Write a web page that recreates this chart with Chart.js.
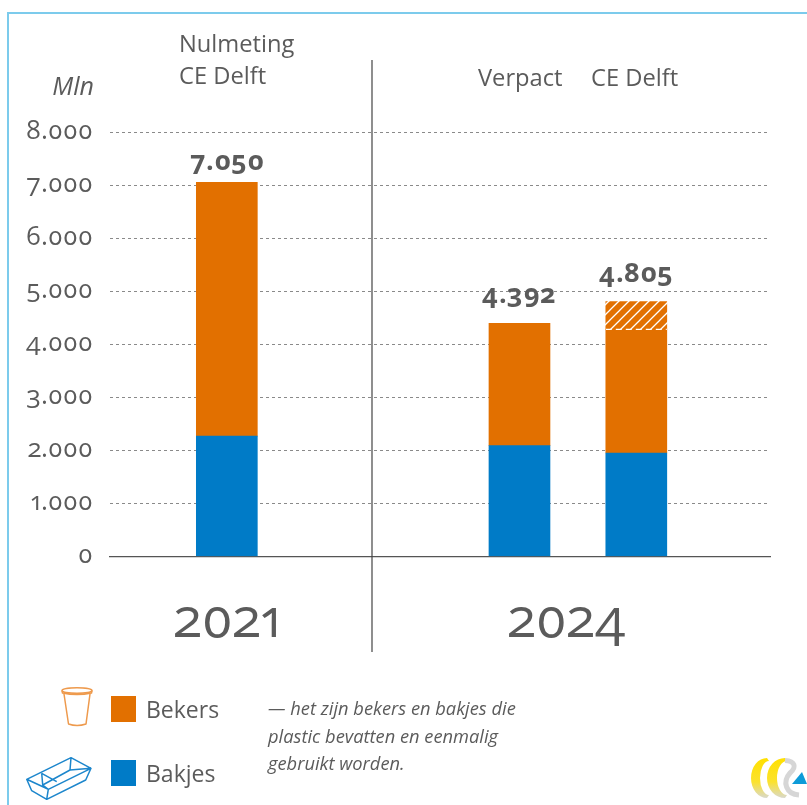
<!DOCTYPE html>
<html><head><meta charset="utf-8">
<style>
@font-face{font-family:"OldNum";src:local("Open Sans");font-weight:400;font-feature-settings:"onum" 1;font-variant-numeric:oldstyle-nums}
@font-face{font-family:"OldNum";src:local("Open Sans Bold"),local("Open Sans");font-weight:700;font-feature-settings:"onum" 1;font-variant-numeric:oldstyle-nums}
html,body{margin:0;padding:0;background:#fff}
canvas{display:block}
</style>
<script src="https://cdn.jsdelivr.net/npm/chart.js@4/dist/chart.umd.min.js"></script>
</head><body>
<canvas id="c" width="807" height="805"></canvas>
<script>
const categories = ['Nulmeting CE Delft', 'Verpact', 'CE Delft'];
const slots = [1, 3.48, 4.47];
const bakjes = [2270, 2090, 1950];
const bekers = [4780, 2302, 2330];
const bekersHatched = [null, null, 525];
const totals = ['7.050', '4.392', '4.805'];
const tickLabels = ['0', '1.000', '2.000', '3.000', '4.000', '5.000', '6.000', '7.000', '8.000'];
const years = ['2021', '2024'];
const noteLines = ['— het zijn bekers en bakjes die', 'plastic bevatten en eenmalig', 'gebruikt worden.'];
const ORANGE = '#E27000', BLUE = '#007BC7', TEXT = '#5b5b5b';
const FONT = '"Open Sans", sans-serif';
const NUMFONT = '"OldNum", "Open Sans", sans-serif';

function hatch() {
  const p = document.createElement('canvas'); p.width = 10; p.height = 10;
  const g = p.getContext('2d');
  g.fillStyle = ORANGE; g.fillRect(0, 0, 10, 10);
  g.strokeStyle = '#fff'; g.lineWidth = 1.3;
  g.beginPath();
  g.moveTo(-2, 12); g.lineTo(12, -2);
  g.moveTo(-7, 7); g.lineTo(7, -7);
  g.moveTo(3, 17); g.lineTo(17, 3);
  g.stroke();
  return g.createPattern(p, 'repeat');
}
const toPts = a => a.map((y, i) => ({x: slots[i], y}));

const decor = {
  id: 'decor',
  beforeDraw(ch) {
    const c = ch.ctx; c.save();
    c.strokeStyle = '#7CCBEC'; c.lineWidth = 2;
    c.beginPath(); c.moveTo(8, 805); c.lineTo(8, 13); c.lineTo(807, 13); c.stroke();
    c.restore();
  },
  afterDraw(ch) {
    const c = ch.ctx; c.save();
    c.textBaseline = 'middle'; c.fillStyle = TEXT;

    c.strokeStyle = '#444'; c.lineWidth = 1.2;
    c.beginPath(); c.moveTo(372, 60); c.lineTo(372, 652); c.stroke();

    c.textAlign = 'left'; c.font = '400 23.7px ' + FONT;
    c.fillText('Nulmeting', 179, 45);
    c.fillText(categories[0].replace('Nulmeting ', ''), 179, 77);
    c.fillText(categories[1], 478, 79);
    c.fillText(categories[2], 591, 79);
    c.textAlign = 'right'; c.font = 'italic 400 25px ' + FONT;
    c.fillText('Mln', 94, 88);

    const barsTop = ch.getDatasetMeta(1).data;
    const hatchTop = ch.getDatasetMeta(2).data;
    const lift = [20, 28, 27];
    c.textAlign = 'center'; c.font = '700 27px ' + NUMFONT; c.letterSpacing = '0.5px';
    totals.forEach((t, i) => {
      const el = i === 2 ? hatchTop[i] : barsTop[i];
      c.fillText(t, el.x, el.y - lift[i]);
    });
    c.letterSpacing = '0px';

    const h = hatchTop[2];
    c.strokeStyle = '#fff'; c.lineWidth = 1.4; c.setLineDash([6, 4]);
    c.beginPath(); c.moveTo(h.x - h.width / 2, h.base); c.lineTo(h.x + h.width / 2, h.base); c.stroke();
    c.setLineDash([]);

    c.font = '400 54px ' + NUMFONT; c.textAlign = 'center'; c.textBaseline = 'alphabetic';
    c.fillText(years[0], 227, 637);
    c.fillText(years[1], 567, 637);
    c.textBaseline = 'middle';

    c.fillStyle = ORANGE; c.fillRect(111, 696, 25, 26);
    c.fillStyle = BLUE; c.fillRect(111, 760, 25, 26);
    c.fillStyle = TEXT; c.textAlign = 'left'; c.font = '400 23px ' + FONT;
    c.fillText(ch.data.datasets[1].label, 146, 711);
    c.fillText(ch.data.datasets[0].label, 146, 775);

    c.font = 'italic 400 18.3px ' + FONT;
    noteLines.forEach((t, i) => c.fillText(t, 268, 710 + i * 27.5));

    // cup icon
    c.strokeStyle = '#EE9A4D'; c.lineWidth = 1.5; c.lineJoin = 'round';
    c.beginPath(); c.moveTo(64, 694); c.lineTo(68.5, 724); c.quadraticCurveTo(77, 727, 86, 724); c.lineTo(90, 694); c.stroke();
    c.beginPath(); c.ellipse(77, 690.5, 15, 2.8, 0, 0, 2 * Math.PI); c.stroke();
    c.beginPath(); c.moveTo(62, 690.5); c.lineTo(62.5, 693); c.quadraticCurveTo(77, 696, 91.5, 693); c.lineTo(92, 690.5); c.stroke();

    // tray icon
    c.strokeStyle = '#1C86CC'; c.lineWidth = 1.5;
    c.beginPath();
    c.moveTo(26.7, 779.3); c.lineTo(71, 757.7); c.lineTo(91, 768.3); c.lineTo(48.3, 789.3); c.closePath();
    c.moveTo(26.7, 779.3); c.lineTo(31.7, 790.7); c.lineTo(46.7, 799.3); c.lineTo(85.7, 780); c.lineTo(91, 768.3);
    c.moveTo(48.3, 789.3); c.lineTo(46.7, 799.3);
    c.moveTo(41.7, 773.3); c.lineTo(42.7, 785); c.lineTo(48.3, 789.3);
    c.moveTo(41.7, 773.3); c.lineTo(56.7, 781.7);
    c.moveTo(42.7, 785); c.lineTo(70, 770); c.lineTo(71, 757.7);
    c.moveTo(70, 770); c.lineTo(91, 768.3);
    c.stroke();

    // logo
    const grad = c.createLinearGradient(0, 758, 0, 798);
    grad.addColorStop(0, '#FFE000'); grad.addColorStop(0.6, '#FBE22E'); grad.addColorStop(1, '#D9D9CC');
    const ring = (x, rx, inner) => {
      c.fillStyle = grad; c.beginPath();
      c.ellipse(x, 778, rx, 20, 0, Math.PI * 1.5, Math.PI * 0.5, true);
      c.ellipse(x + 2, 778, inner, 17, 0, Math.PI * 0.5, Math.PI * 1.5, false);
      c.closePath(); c.fill();
    };
    ring(767, 16, 9); ring(785, 18, 10);
    c.strokeStyle = '#D6D6D6'; c.lineWidth = 5;
    c.beginPath(); c.moveTo(785, 760.5); c.bezierCurveTo(795, 761, 797, 767, 790, 773);
    c.bezierCurveTo(782, 782, 786, 794, 799, 795); c.stroke();
    c.fillStyle = '#0D9BD8';
    c.beginPath(); c.moveTo(802, 772); c.lineTo(807, 784); c.lineTo(792, 784); c.closePath(); c.fill();
    c.restore();
  }
};

function draw() {
  new Chart(document.getElementById('c'), {
    type: 'bar',
    data: { datasets: [
      { label: 'Bakjes', data: toPts(bakjes), backgroundColor: BLUE, stack: 's', barThickness: 61 },
      { label: 'Bekers', data: toPts(bekers), backgroundColor: ORANGE, stack: 's', barThickness: 61 },
      { label: 'Bekers (gearceerd)', data: toPts(bekersHatched), backgroundColor: hatch(), stack: 's', barThickness: 61 }
    ]},
    options: {
      responsive: false, animation: false,
      layout: { padding: { top: 132, right: 37, bottom: 248.5, left: 0 } },
      plugins: { legend: { display: false }, tooltip: { enabled: false } },
      scales: {
        x: { type: 'linear', stacked: true, offset: false, min: 0.01, max: 5.603,
          grid: { display: false }, ticks: { display: false },
          border: { display: true, color: '#555', width: 1.2 },
          afterFit(s) { s.height = 0; } },
        y: { stacked: true, min: 0, max: 8000,
          grid: { color: '#8a8a8a', lineWidth: 1, drawTicks: false },
          border: { display: false, dash: [3, 3] },
          ticks: { stepSize: 1000, padding: 17, color: TEXT, font: { family: NUMFONT, size: 26 },
            callback: v => tickLabels[v / 1000] },
          afterFit(s) { s.width = 110; } }
      }
    },
    plugins: [decor]
  });
}
Promise.all([document.fonts.load('400 24px OldNum', '0'), document.fonts.load('700 26px OldNum', '0')])
  .then(draw, draw);
</script>
</body></html>
